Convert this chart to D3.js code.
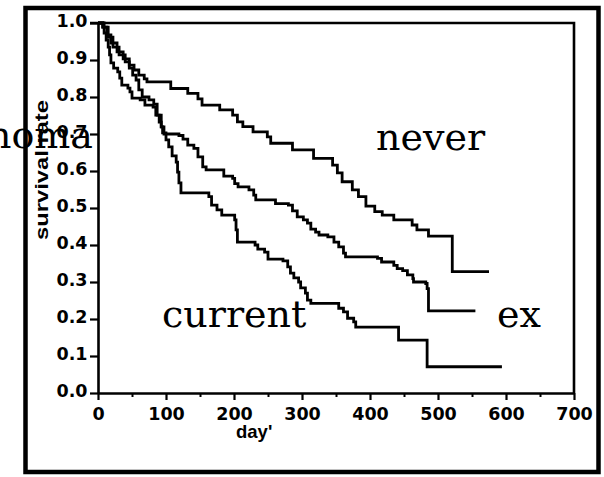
<!DOCTYPE html>
<html>
<head>
<meta charset="utf-8">
<script src="https://cdn.jsdelivr.net/npm/d3@7"></script>
<style>
  html, body { margin: 0; padding: 0; background: #fff; }
  svg { display: block; }
</style>
</head>
<body>
<script>
// ---- data ----
const xTicks = [0, 100, 200, 300, 400, 500, 600, 700];
const xMinorTicks = [50, 150, 250, 350, 450, 550, 650];
const yTicks = [0, 0.1, 0.2, 0.3, 0.4, 0.5, 0.6, 0.7, 0.8, 0.9, 1.0];

const neverTime = [0, 7, 13, 19, 28, 37, 46, 53, 60, 68, 72, 107, 132, 147, 153, 179, 198, 205, 213, 228, 249, 254, 286, 317, 345, 352, 359, 374, 383, 394, 407, 418, 435, 462, 469, 486, 521, 575];
const neverSurv = [1.0, 0.989, 0.968, 0.946, 0.922, 0.903, 0.886, 0.873, 0.859, 0.849, 0.841, 0.823, 0.81, 0.795, 0.778, 0.765, 0.751, 0.733, 0.72, 0.706, 0.692, 0.675, 0.657, 0.634, 0.616, 0.595, 0.571, 0.549, 0.531, 0.505, 0.49, 0.481, 0.468, 0.454, 0.441, 0.424, 0.328, 0.328];

const exTime = [0, 7, 15, 22, 31, 40, 46, 51, 56, 60, 65, 75, 82, 87, 93, 97, 119, 125, 132, 141, 147, 154, 159, 185, 198, 201, 206, 222, 229, 232, 261, 280, 286, 293, 302, 308, 313, 320, 325, 338, 347, 354, 361, 364, 411, 417, 435, 440, 448, 455, 463, 464, 482, 484, 486, 555];
const exSurv = [1.0, 0.989, 0.962, 0.935, 0.914, 0.895, 0.878, 0.859, 0.846, 0.819, 0.8, 0.792, 0.781, 0.751, 0.719, 0.7, 0.696, 0.686, 0.67, 0.661, 0.638, 0.611, 0.603, 0.586, 0.58, 0.566, 0.557, 0.549, 0.535, 0.522, 0.512, 0.508, 0.492, 0.476, 0.468, 0.459, 0.443, 0.435, 0.427, 0.422, 0.408, 0.395, 0.378, 0.368, 0.364, 0.354, 0.345, 0.336, 0.331, 0.319, 0.309, 0.3, 0.296, 0.282, 0.222, 0.222];

const currentTime = [0, 9, 12, 15, 17, 19, 23, 29, 32, 35, 44, 47, 50, 62, 69, 81, 85, 90, 93, 95, 100, 104, 109, 115, 117, 119, 122, 163, 167, 175, 182, 201, 203, 205, 231, 235, 245, 250, 272, 279, 283, 288, 295, 298, 305, 308, 313, 354, 361, 367, 376, 379, 442, 484, 594];
const currentSurv = [1.0, 0.973, 0.954, 0.935, 0.914, 0.892, 0.878, 0.868, 0.851, 0.832, 0.824, 0.814, 0.797, 0.792, 0.778, 0.773, 0.751, 0.732, 0.719, 0.703, 0.684, 0.665, 0.641, 0.624, 0.597, 0.568, 0.541, 0.531, 0.508, 0.495, 0.481, 0.468, 0.441, 0.408, 0.4, 0.389, 0.381, 0.362, 0.357, 0.341, 0.324, 0.311, 0.3, 0.284, 0.27, 0.251, 0.242, 0.229, 0.219, 0.202, 0.192, 0.178, 0.143, 0.071, 0.071];

const groupNames = ["never", "ex", "current"];
const xLabel = "day'";
const yLabel = "survival rate";
const sideLabel = "noma";

// ---- drawing ----
const W = 604, H = 477;
const svg = d3.select("body").append("svg").attr("width", W).attr("height", H);
svg.append("rect").attr("width", W).attr("height", H).attr("fill", "#fff");

const x = d3.scaleLinear().domain([0, 700]).range([98, 574]);
const y = d3.scaleLinear().domain([0, 1]).range([393, 23]);

// outer frame
svg.append("rect")
  .attr("x", 25.5).attr("y", 8).attr("width", 573).attr("height", 464)
  .attr("fill", "none").attr("stroke", "#000").attr("stroke-width", 4.5);

// big serif side label (partially off the left edge)
const serif = "'DejaVu Serif', serif";
svg.append("text").attr("x", 93).attr("y", 148).attr("text-anchor", "end")
  .attr("font-family", serif).attr("font-size", 38).attr("fill", "#000").text(sideLabel);

// plot frame (top and right)
svg.append("path")
  .attr("d", `M${x(0) - 8},${y(1)}H${x(700)}V${y(0)}`)
  .attr("fill", "none").attr("stroke", "#000").attr("stroke-width", 2.6);

const sans = "'Liberation Sans', Arial, sans-serif";
const tickFont = "'DejaVu Sans', sans-serif";

// x axis
const gx = svg.append("g").attr("transform", `translate(0,${y(0)})`)
  .call(d3.axisBottom(x).tickValues(xTicks).tickFormat(d3.format("d")).tickSize(7).tickSizeOuter(0).tickPadding(8));
gx.select(".domain").attr("stroke-width", 2.6);
gx.selectAll(".tick line").attr("stroke-width", 2.2);
gx.selectAll(".tick text").attr("font-family", tickFont).attr("font-size", 17.5).attr("font-weight", "bold").attr("fill", "#000");
svg.append("g").attr("transform", `translate(0,${y(0)})`)
  .call(d3.axisBottom(x).tickValues(xMinorTicks).tickSize(4).tickSizeOuter(0).tickFormat(""))
  .call(g => g.select(".domain").remove())
  .selectAll(".tick line").attr("stroke-width", 2);

// y axis
const gy = svg.append("g").attr("transform", `translate(${x(0)},0)`)
  .call(d3.axisLeft(y).tickValues(yTicks).tickFormat(d3.format(".1f")).tickSize(8).tickSizeOuter(0).tickPadding(2.5));
gy.select(".domain").attr("stroke-width", 2.6);
gy.selectAll(".tick line").attr("stroke-width", 2.2);
gy.selectAll(".tick text").attr("font-family", tickFont).attr("font-size", 17.5).attr("font-weight", "bold").attr("fill", "#000").attr("dy", "0.22em");

// axis titles
svg.append("text").attr("x", 236).attr("y", 438).attr("font-family", sans)
  .attr("font-size", 18.5).attr("font-weight", "bold").attr("fill", "#000").text(xLabel);
svg.append("text").attr("transform", "translate(48,170) rotate(-90)")
  .attr("text-anchor", "middle").attr("font-family", sans).attr("font-size", 17.5).attr("font-weight", "bold")
  .attr("textLength", 140).attr("lengthAdjust", "spacingAndGlyphs").attr("fill", "#000").text(yLabel);

// survival step curves
const line = d3.line().x(d => x(d[0])).y(d => y(d[1])).curve(d3.curveStepAfter);
const series = [
  [neverTime, neverSurv],
  [exTime, exSurv],
  [currentTime, currentSurv]
];
series.forEach(([t, s]) => {
  svg.append("path").datum(t.map((v, i) => [v, s[i]]))
    .attr("d", line).attr("fill", "none").attr("stroke", "#000")
    .attr("stroke-width", 2.8).attr("stroke-linejoin", "miter");
});

// group labels
svg.append("text").attr("x", 376).attr("y", 150).attr("font-family", serif).attr("font-size", 38).attr("fill", "#000").text(groupNames[0]);
svg.append("text").attr("x", 497).attr("y", 327).attr("font-family", serif).attr("font-size", 38).attr("fill", "#000").text(groupNames[1]);
svg.append("text").attr("x", 162).attr("y", 327).attr("font-family", serif).attr("font-size", 38).attr("fill", "#000").text(groupNames[2]);
</script>
</body>
</html>
